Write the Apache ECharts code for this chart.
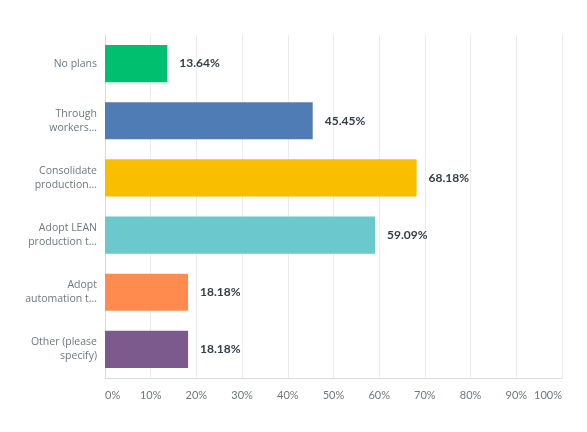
<!DOCTYPE html>
<html>
<head>
<meta charset="utf-8">
<script src="https://cdn.jsdelivr.net/npm/echarts@6/dist/echarts.min.js"></script>
<style>
html, body { margin: 0; padding: 0; background: #fff; }
#main { width: 587px; height: 432px; }
</style>
</head>
<body>
<div id="main"></div>
<script>
// categories, top to bottom as in the picture
var categories = [
    'No plans',
    'Through\nworkers...',
    'Consolidate\nproduction...',
    'Adopt LEAN\nproduction t...',
    'Adopt\nautomation t...',
    'Other (please\nspecify)'
];
var values = [13.64, 45.45, 68.18, 59.09, 18.18, 18.18];
var colors = ['#00bf6f', '#507cb6', '#f9be00', '#6bc8cd', '#ff8b4f', '#7d5a8e'];
var tickLabels = ['0%', '10%', '20%', '30%', '40%', '50%', '60%', '70%', '80%', '90%', '100%'];

var myChart = echarts.init(document.getElementById('main'));

var barData = [];
for (var i = 0; i < values.length; i++) {
    barData.push({
        value: values[i],
        itemStyle: { color: colors[i] }
    });
}

var option = {
    animation: false,
    textStyle: { fontFamily: 'Lato, "Open Sans", sans-serif' },
    grid: { left: 105, right: 25, top: 35, bottom: 54 },
    xAxis: {
        type: 'value',
        min: 0,
        max: 100,
        interval: 10,
        axisLine: { show: true, lineStyle: { color: '#d9d9d9' } },
        axisTick: { show: false },
        splitLine: { lineStyle: { color: '#ececec' } },
        axisLabel: {
            color: '#6b787f',
            fontSize: 11,
            margin: 12,
            alignMinLabel: 'left',
            alignMaxLabel: 'right',
            formatter: function (v) { return tickLabels[Math.round(v / 10)]; }
        }
    },
    yAxis: {
        type: 'category',
        inverse: true,
        data: categories,
        axisLine: { show: true, lineStyle: { color: '#d9d9d9' } },
        axisTick: { show: false },
        axisLabel: {
            color: '#6b787f',
            fontFamily: '"Open Sans", sans-serif',
            fontSize: 10.5,
            lineHeight: 14,
            margin: 8,
            align: 'right'
        }
    },
    series: [{
        type: 'bar',
        data: barData,
        barCategoryGap: '35%',
        label: {
            show: true,
            position: 'right',
            distance: 12,
            color: '#333e48',
            fontSize: 12,
            fontWeight: 'bold',
            formatter: function (p) { return p.value.toFixed(2) + '%'; }
        }
    }]
};

myChart.setOption(option, true);
</script>
</body>
</html>
